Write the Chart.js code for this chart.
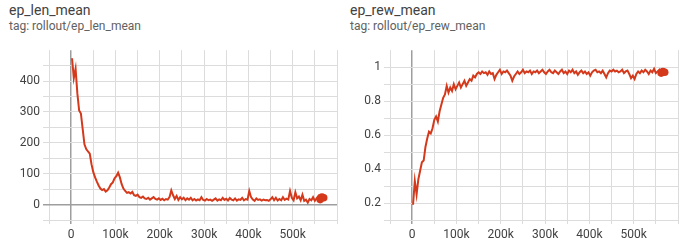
<!DOCTYPE html>
<html>
<head>
<meta charset="utf-8">
<script src="https://cdn.jsdelivr.net/npm/chart.js@4"></script>
<style>
  body { margin: 0; background: #fff; font-family: Roboto, sans-serif; }
  .card { position: absolute; top: 0; width: 341px; height: 245px; }
  .title { position: absolute; left: 9px; top: 2px; font-size: 14px; color: #424242; }
  .tag { position: absolute; left: 9px; top: 19px; font-size: 12px; color: #616161; }
  canvas { position: absolute; left: 0; top: 40px; }
</style>
</head>
<body>
<div class="card" style="left:0">
  <div class="title">ep_len_mean</div>
  <div class="tag">tag: rollout/ep_len_mean</div>
  <canvas id="lenChart" width="341" height="205"></canvas>
</div>
<div class="card" style="left:341px">
  <div class="title">ep_rew_mean</div>
  <div class="tag">tag: rollout/ep_rew_mean</div>
  <canvas id="rewChart" width="341" height="205"></canvas>
</div>
<script>
// Training steps (shared by both runs)
const steps = [
  2000, 6000, 10000, 14000, 18000, 22000, 26000, 30000, 34000, 38000,
  42000, 46000, 50000, 54000, 58000, 62000, 66000, 70000, 74000, 78000,
  82000, 86000, 90000, 94000, 98000, 102000, 106000, 110000, 114000, 118000,
  122000, 126000, 130000, 134000, 138000, 142000, 146000, 150000, 154000, 158000,
  162000, 166000, 170000, 174000, 178000, 182000, 186000, 190000, 194000, 198000,
  202000, 206000, 210000, 214000, 218000, 222000, 226000, 230000, 234000, 238000,
  242000, 246000, 250000, 254000, 258000, 262000, 266000, 270000, 274000, 278000,
  282000, 286000, 290000, 294000, 298000, 302000, 306000, 310000, 314000, 318000,
  322000, 326000, 330000, 334000, 338000, 342000, 346000, 350000, 354000, 358000,
  362000, 366000, 370000, 374000, 378000, 382000, 386000, 390000, 394000, 398000,
  402000, 406000, 410000, 414000, 418000, 422000, 426000, 430000, 434000, 438000,
  442000, 446000, 450000, 454000, 458000, 462000, 466000, 470000, 474000, 478000,
  482000, 486000, 490000, 494000, 498000, 502000, 506000, 510000, 514000, 518000,
  522000, 526000, 530000, 534000, 538000, 542000, 546000, 550000, 554000, 558000,
  562000, 566000, 570000
];

// rollout/ep_len_mean
const epLenMean = [
  474, 410, 440, 360, 305, 295, 245, 195, 180, 172,
  165, 130, 105, 88, 74, 62, 52, 47, 50, 42,
  46, 55, 66, 72, 85, 92, 103, 88, 66, 52,
  44, 38, 40, 36, 41, 30, 28, 32, 24, 22,
  26, 20, 18, 22, 16, 20, 24, 18, 16, 20,
  15, 19, 14, 18, 16, 24, 46, 30, 18, 28,
  15, 24, 17, 22, 14, 20, 16, 22, 14, 18,
  13, 17, 14, 24, 15, 13, 18, 14, 16, 12,
  16, 20, 13, 17, 14, 22, 15, 19, 13, 21,
  16, 14, 20, 13, 17, 15, 22, 14, 18, 16,
  44, 24, 16, 12, 20, 15, 17, 13, 16, 14,
  15, 12, 17, 24, 14, 22, 13, 18, 14, 24,
  15, 19, 16, 44, 22, 14, 40, 20, 26, 14,
  32, 12, 16, 6, 18, 14, 24, 12, 20, 28,
  16, 24, 22
];

// rollout/ep_rew_mean
const epRewMean = [
  0.19, 0.33, 0.25, 0.34, 0.39, 0.44, 0.45, 0.53, 0.58, 0.62,
  0.61, 0.64, 0.69, 0.71, 0.68, 0.74, 0.78, 0.82, 0.84, 0.89,
  0.85, 0.88, 0.86, 0.90, 0.87, 0.89, 0.91, 0.88, 0.90, 0.92,
  0.89, 0.91, 0.93, 0.92, 0.95, 0.94, 0.96, 0.97, 0.96, 0.975,
  0.965, 0.97, 0.955, 0.975, 0.96, 0.965, 0.93, 0.955, 0.97, 0.985,
  0.96, 0.975, 0.97, 0.98, 0.965, 0.95, 0.92, 0.945, 0.96, 0.975,
  0.96, 0.97, 0.985, 0.965, 0.975, 0.97, 0.98, 0.96, 0.975, 0.97,
  0.98, 0.965, 0.975, 0.985, 0.97, 0.96, 0.975, 0.985, 0.97, 0.965,
  0.98, 0.97, 0.96, 0.975, 0.985, 0.965, 0.975, 0.96, 0.98, 0.97,
  0.985, 0.965, 0.975, 0.955, 0.97, 0.98, 0.965, 0.975, 0.96, 0.97,
  0.95, 0.97, 0.98, 0.985, 0.97, 0.975, 0.965, 0.98, 0.96, 0.94,
  0.965, 0.98, 0.975, 0.985, 0.975, 0.98, 0.97, 0.975, 0.985, 0.965,
  0.975, 0.98, 0.96, 0.935, 0.95, 0.93, 0.96, 0.975, 0.965, 0.98,
  0.97, 0.985, 0.975, 0.96, 0.98, 0.97, 0.99, 0.965, 0.975, 0.985,
  0.965, 0.975, 0.97
];

const LINE_COLOR = '#d4391b';
const GRID_COLOR = '#dcdcdc';
const ZERO_COLOR = '#9e9e9e';

function stepLabel(v) {
  if (v < 0 || v >= 600000 || v % 100000 !== 0) return '';
  return v === 0 ? '0' : (v / 1000) + 'k';
}

function makeChart(id, values, yMin, yMax, yStep, yLabel, padRight) {
  const ctx = document.getElementById(id).getContext('2d');
  const last = values.length - 1;
  return new Chart(ctx, {
    type: 'line',
    data: {
      datasets: [{
        data: steps.map((s, i) => ({ x: s, y: values[i] })),
        borderColor: LINE_COLOR,
        backgroundColor: LINE_COLOR,
        borderWidth: 2,
        tension: 0,
        // blob at the end of the run, like TensorBoard's last-point marker
        pointRadius: c => c.dataIndex >= last - 2 ? 3.8 : 0,
        pointBorderWidth: 0,
        pointHoverRadius: 0
      }]
    },
    options: {
      responsive: false,
      animation: false,
      layout: { padding: { top: 3, right: padRight, left: 0, bottom: 0 } },
      plugins: { legend: { display: false }, tooltip: { enabled: false } },
      scales: {
        x: {
          type: 'linear',
          min: -50000,
          max: 600000,
          border: { display: false },
          grid: {
            color: c => c.tick.value === 0 ? ZERO_COLOR : GRID_COLOR,
            lineWidth: c => c.tick.value === 0 ? 1.5 : 1,
            tickLength: 4
          },
          ticks: {
            stepSize: 50000,
            autoSkip: false,
            maxRotation: 0,
            padding: 4,
            color: '#424242',
            font: { family: 'Roboto', size: 12 },
            callback: v => stepLabel(v)
          },
          afterFit: s => { s.height = 25; }
        },
        y: {
          min: yMin,
          max: yMax,
          border: { display: false },
          grid: {
            color: c => {
              if (Math.abs(c.tick.value - yMax) < 1e-9) return 'rgba(0,0,0,0)';
              return Math.abs(c.tick.value) < 1e-9 ? ZERO_COLOR : GRID_COLOR;
            },
            lineWidth: c => Math.abs(c.tick.value) < 1e-9 ? 1.5 : 1,
            tickLength: 6
          },
          ticks: {
            stepSize: yStep,
            autoSkip: false,
            padding: 3,
            color: '#424242',
            font: { family: 'Roboto', size: 12 },
            callback: v => yLabel(v)
          },
          afterFit: s => { s.width = 49; }
        }
      }
    }
  });
}

makeChart('lenChart', epLenMean, -50, 500, 50,
  v => (v >= 0 && v < 500 && v % 100 === 0) ? String(v) : '', 2);

makeChart('rewChart', epRewMean, 0.1, 1.1, 0.1,
  v => {
    const t = Math.round(v * 10);
    if (t % 2 !== 0 || t < 2 || t > 10) return '';
    return t === 10 ? '1' : (t / 10).toString();
  }, 3);
</script>
</body>
</html>
